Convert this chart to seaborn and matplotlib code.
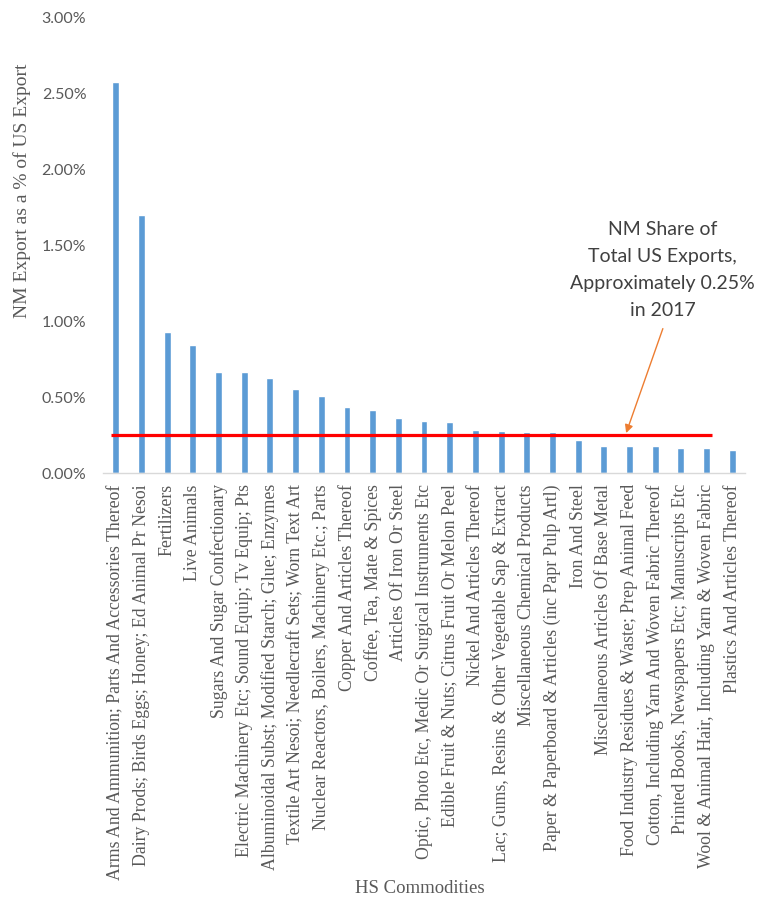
import matplotlib
matplotlib.use("Agg")
import matplotlib.pyplot as plt
import seaborn as sns
import pandas as pd
from matplotlib.ticker import FuncFormatter

# HS commodity groups, ranked by New Mexico's share of US exports (percent)
commodities = [
    "Arms And Ammunition; Parts And Accessories Thereof",
    "Dairy Prods; Birds Eggs; Honey; Ed Animal Pr Nesoi",
    "Fertilizers",
    "Live Animals",
    "Sugars And Sugar Confectionary",
    "Electric Machinery Etc; Sound Equip; Tv Equip; Pts",
    "Albuminoidal Subst; Modified Starch; Glue; Enzymes",
    "Textile Art Nesoi; Needlecraft Sets; Worn Text Art",
    "Nuclear Reactors, Boilers, Machinery Etc.; Parts",
    "Copper And Articles Thereof",
    "Coffee, Tea, Mate & Spices",
    "Articles Of Iron Or Steel",
    "Optic, Photo Etc, Medic Or Surgical Instruments Etc",
    "Edible Fruit & Nuts; Citrus Fruit Or Melon Peel",
    "Nickel And Articles Thereof",
    "Lac; Gums, Resins & Other Vegetable Sap & Extract",
    "Miscellaneous Chemical Products",
    "Paper & Paperboard & Articles (inc Papr Pulp Artl)",
    "Iron And Steel",
    "Miscellaneous Articles Of Base Metal",
    "Food Industry Residues & Waste; Prep Animal Feed",
    "Cotton, Including Yarn And Woven Fabric Thereof",
    "Printed Books, Newspapers Etc; Manuscripts Etc",
    "Wool & Animal Hair, Including Yarn & Woven Fabric",
    "Plastics And Articles Thereof",
]
share_pct = [
    2.57, 1.70, 0.925, 0.84, 0.665, 0.665, 0.625, 0.55, 0.51, 0.435,
    0.415, 0.365, 0.345, 0.335, 0.285, 0.275, 0.27, 0.27, 0.22, 0.18,
    0.18, 0.18, 0.165, 0.165, 0.15,
]
total_share_pct = 0.25
y_ticks = [0.0, 0.5, 1.0, 1.5, 2.0, 2.5, 3.0]

df = pd.DataFrame({"commodity": commodities, "share": share_pct})

sns.set_theme(style="white")
plt.rcParams["font.family"] = ["Liberation Serif", "DejaVu Serif"]

fig = plt.figure(figsize=(7.59, 9.0), dpi=100)
ax = fig.add_axes([0.1357, 0.4744, 0.8459, 0.5067])

sns.barplot(data=df, x="commodity", y="share", color="#5B9BD5",
            width=0.27, saturation=1, ax=ax)

ax.set_xlim(-0.5, len(commodities) - 0.5)
ax.set_ylim(0, 3.0)
ax.set_yticks(y_ticks)
ax.yaxis.set_major_formatter(FuncFormatter(lambda v, _: f"{v:.2f}%"))
for lbl in ax.get_yticklabels():
    lbl.set_fontfamily(["Lato", "DejaVu Sans"])
    lbl.set_fontsize(11.5)
    lbl.set_color("#595959")
ax.tick_params(axis="y", length=0, pad=12)
ax.tick_params(axis="x", length=0, pad=8)
ax.set_xticks(range(len(commodities)))
ax.set_xticklabels(commodities, rotation=90, ha="center", va="top",
                   fontsize=12.8, color="#595959")

for side in ["left", "right", "top"]:
    ax.spines[side].set_visible(False)
ax.spines["bottom"].set_color("#D9D9D9")
ax.spines["bottom"].set_linewidth(1)

ax.set_ylabel("NM Export as a % of US Export", fontsize=14, color="#595959")
ax.yaxis.set_label_coords(-0.112, 0.62)
ax.set_xlabel("HS Commodities", fontsize=13.5, color="#595959")
ax.xaxis.set_label_coords(0.494, -0.893)

# State-wide share of total US exports
ax.plot([-0.2, 23.2], [total_share_pct, total_share_pct], color="#FF0000", lw=2.3,
        solid_capstyle="butt", zorder=5)

ax.text(21.3, 1.335, "NM Share of\nTotal US Exports,\nApproximately 0.25%\nin 2017",
        ha="center", va="center", fontsize=14, color="#404040",
        family=["Lato", "DejaVu Sans"], linespacing=1.72)
ax.annotate("", xy=(19.87, 0.263), xytext=(21.3, 0.95),
            arrowprops=dict(arrowstyle="-|>", color="#ED7D31", lw=1.0,
                            mutation_scale=12, shrinkA=0, shrinkB=0))

fig.savefig("out.png", dpi=100)
